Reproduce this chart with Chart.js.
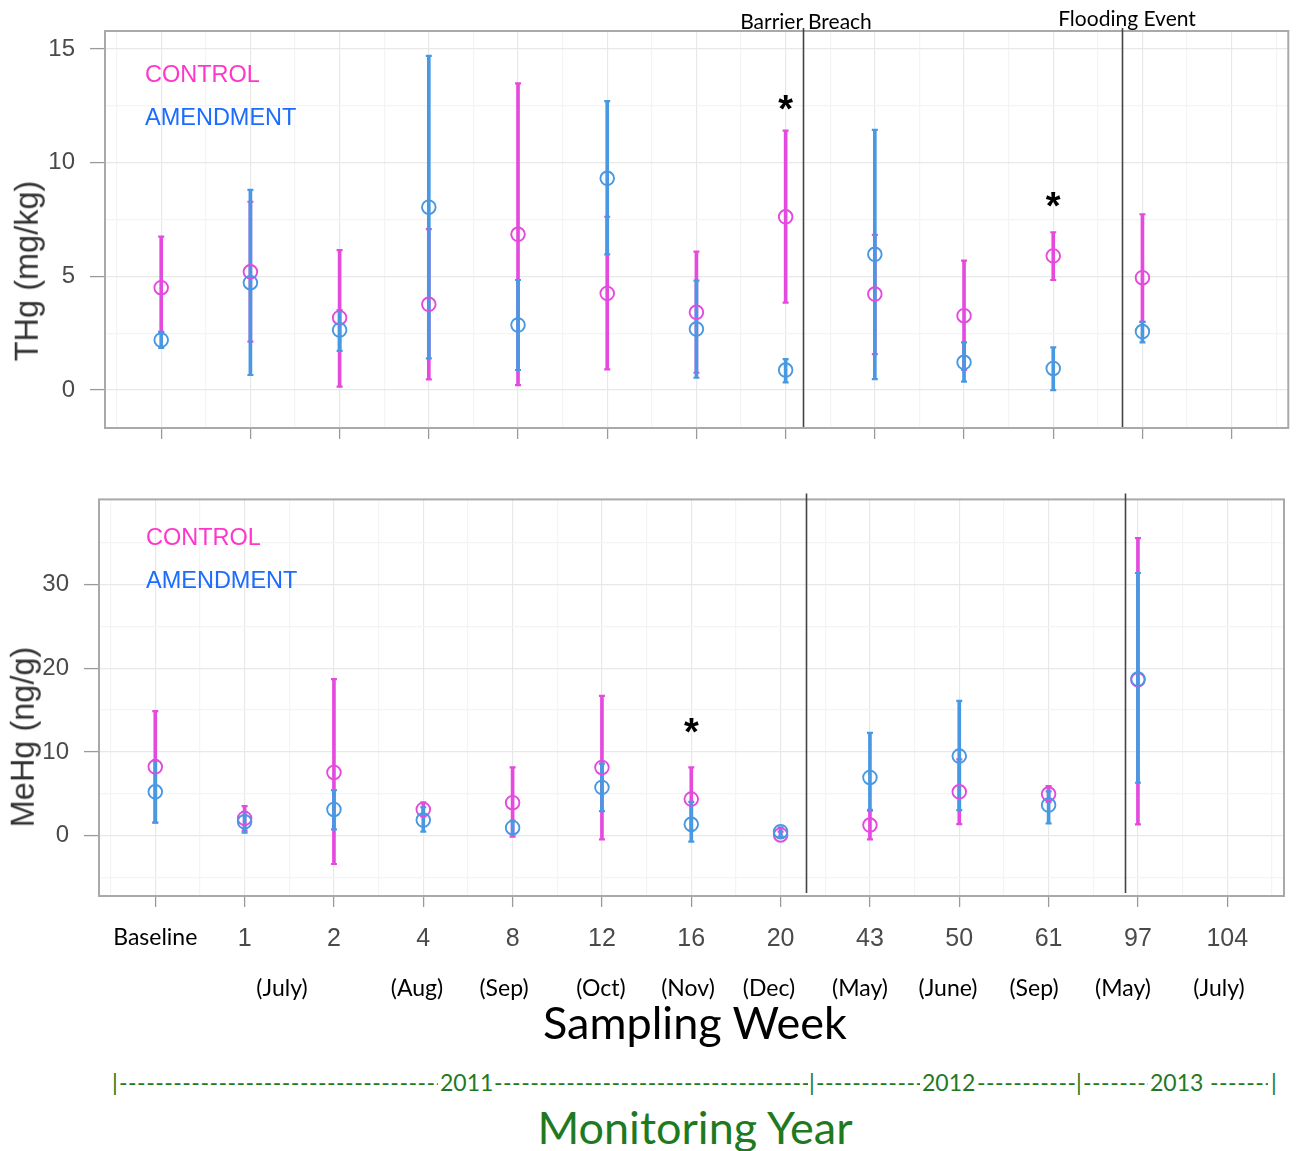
<!DOCTYPE html>
<html>
<head>
<meta charset="utf-8">
<script src="https://cdn.jsdelivr.net/npm/chart.js@4.4.1/dist/chart.umd.min.js"></script>
<style>
  html, body { margin: 0; padding: 0; background: #fff; }
  #page { position: relative; width: 1297px; height: 1151px; overflow: hidden; background: #fff; }
  canvas { position: absolute; left: 0; }
  .t { position: absolute; white-space: nowrap; line-height: 1; }
  .c { transform: translate(-50%, -50%); }
  .rot { transform: translate(-50%, -50%) rotate(-90deg); }
  .arial { font-family: 'Liberation Sans', Arial, sans-serif; }
  .hum { font-family: Lato, 'Open Sans', sans-serif; }
  .legend { font-size: 23.5px; }
  .ctrl { color: #ff36cc; }
  .amend { color: #1c6cff; }
  .green { color: #1f7a1f; }
  .dash { overflow: hidden; letter-spacing: 0.5px; }
</style>
</head>
<body>
<div id="page">
  <canvas id="thg" width="1297" height="470" style="top:0"></canvas>
  <canvas id="mehg" width="1297" height="512" style="top:470px"></canvas>

  <div class="t arial rot" style="left:27px;top:271px;font-size:32.5px;color:#333;">THg (mg/kg)</div>
  <div class="t arial rot" style="left:23px;top:737px;font-size:32.5px;color:#333;">MeHg (ng/g)</div>

  <div class="t arial legend ctrl" style="left:145px;top:63px;">CONTROL</div>
  <div class="t arial legend amend" style="left:145px;top:106px;">AMENDMENT</div>
  <div class="t arial legend ctrl" style="left:146px;top:526px;">CONTROL</div>
  <div class="t arial legend amend" style="left:146px;top:569px;">AMENDMENT</div>

  <div class="t hum c" style="left:806px;top:20px;font-size:21px;color:#000;">Barrier Breach</div>
  <div class="t hum c" style="left:1127px;top:17px;font-size:21px;color:#000;">Flooding Event</div>

  <div id="months"></div>
  <div class="t hum c" style="left:695px;top:1022px;font-size:45px;color:#000;">Sampling Week</div>
  <div id="years"></div>
  <div class="t hum c green" style="left:695px;top:1127px;font-size:45px;">Monitoring Year</div>
</div>

<script>
// ---- sampling weeks (x categories) ----
const weeks = ['Baseline', '1', '2', '4', '8', '12', '16', '20', '43', '50', '61', '97', '104'];
const monthLabels = ['(July)', '(Aug)', '(Sep)', '(Oct)', '(Nov)', '(Dec)', '(May)', '(June)', '(Sep)', '(May)', '(July)'];

// ---- THg (mg/kg): mean and error-bar ends per week ----
const thgControlMean = [4.50, 5.20, 3.18, 3.77, 6.85, 4.25, 3.42, 7.62, 4.22, 3.27, 5.90, 4.94];
const thgControlLow  = [2.56, 2.13, 0.15, 0.47, 0.22, 0.91, 0.76, 3.84, 1.58, 0.88, 4.84, 3.00];
const thgControlHigh = [6.75, 8.28, 6.15, 7.08, 13.49, 7.62, 6.09, 11.41, 6.82, 5.69, 6.94, 7.73];
const thgAmendMean   = [2.20, 4.72, 2.64, 8.04, 2.86, 9.31, 2.68, 0.88, 5.97, 1.22, 0.95, 2.57];
const thgAmendLow    = [1.85, 0.66, 1.72, 1.39, 0.88, 5.97, 0.54, 0.34, 0.48, 0.37, 0.00, 2.10];
const thgAmendHigh   = [2.56, 8.80, 3.52, 14.70, 4.84, 12.71, 4.81, 1.36, 11.44, 2.10, 1.88, 3.00];

// ---- MeHg (ng/g): mean and error-bar ends per week ----
const mehgControlMean = [8.22, 2.07, 7.55, 3.14, 3.94, 8.15, 4.37, 0.10, 1.27, 5.24, 4.97, 18.60];
const mehgControlLow  = [1.58, 0.60, -3.37, 2.30, -0.10, -0.43, 0.60, -0.20, -0.43, 1.39, 4.00, 1.36];
const mehgControlHigh = [14.86, 3.54, 18.68, 3.98, 8.15, 16.69, 8.15, 0.50, 3.00, 9.10, 5.92, 35.50];
const mehgAmendMean   = [5.24, 1.67, 3.14, 1.87, 0.96, 5.77, 1.36, 0.48, 6.96, 9.50, 3.66, 18.70];
const mehgAmendLow    = [1.55, 0.36, 0.76, 0.48, 0.20, 2.94, -0.71, -0.10, 3.10, 3.06, 1.48, 6.32];
const mehgAmendHigh   = [9.00, 2.86, 5.45, 3.40, 1.80, 8.60, 4.05, 1.00, 12.28, 16.10, 5.30, 31.35];

// weeks (by index) where the two treatments differ significantly
const thgSignificant = [7, 10];
const mehgSignificant = [6];

const CTRL = '#e54ade';
const AMEND = '#4898e2';

// ---- text rows below the lower panel ----
const monthCenters = [282, 417, 504, 601, 688, 769, 860, 948, 1034, 1123, 1219];
const monthsBox = document.getElementById('months');
monthLabels.forEach((m, i) => {
  const d = document.createElement('div');
  d.className = 't hum c';
  d.style.cssText = `left:${monthCenters[i]}px;top:987px;font-size:23px;color:#000;`;
  d.textContent = m;
  monthsBox.appendChild(d);
});

const DASHES = '-'.repeat(70);
const yearRow = [
  [112, null, '|'], [119, 319, DASHES], [440, null, '2011'], [494, 314, DASHES],
  [809, null, '|'], [816, 104, DASHES], [922, null, '2012'], [977, 98, DASHES],
  [1076, null, '|'], [1083, 65, DASHES], [1150, null, '2013'], [1210, 58, DASHES],
  [1271, null, '|']
];
const yearsBox = document.getElementById('years');
yearRow.forEach(([left, width, txt]) => {
  const d = document.createElement('div');
  d.className = 't hum green' + (width ? ' dash' : '');
  d.style.cssText = `left:${left}px;top:1071px;font-size:23px;` + (width ? `width:${width}px;` : '');
  d.textContent = txt;
  yearsBox.appendChild(d);
});

// ---- chart helpers ----
const rangeBars = (low, high) => low.map((v, i) => ({ x: i, y: [v, high[i]] }));
const capPoints = (low, high) => {
  const pts = [];
  low.forEach((v, i) => { pts.push({ x: i, y: v }); pts.push({ x: i, y: high[i] }); });
  return pts;
};
const meanPoints = mean => mean.map((v, i) => ({ x: i, y: v }));
const steps = (from, to, step) => {
  const out = [];
  for (let k = Math.round(from / step); k * step <= to + 1e-9; k++) out.push({ value: k * step });
  return out;
};

const panelExtras = {
  id: 'panelExtras',
  beforeDatasetsDraw(chart) {
    const a = chart.chartArea, ctx = chart.ctx;
    ctx.save();
    ctx.strokeStyle = '#a9a9a9';
    ctx.lineWidth = 2;
    ctx.strokeRect(a.left, a.top, a.right - a.left, a.bottom - a.top);
    ctx.restore();
  },
  afterDatasetsDraw(chart, args, o) {
    const a = chart.chartArea, ctx = chart.ctx;
    const xs = chart.scales.x, ys = chart.scales.y;
    ctx.save();
    ctx.strokeStyle = '#444';
    ctx.lineWidth = 1.6;
    o.eventLines.forEach(v => {
      const px = Math.round(xs.getPixelForValue(v)) + 0.5;
      ctx.beginPath();
      ctx.moveTo(px, a.top - o.lineAbove);
      ctx.lineTo(px, a.bottom - o.lineShort);
      ctx.stroke();
    });
    ctx.fillStyle = '#000';
    ctx.font = 'bold 38px "Liberation Sans", Arial, sans-serif';
    ctx.textAlign = 'center';
    ctx.textBaseline = 'alphabetic';
    o.stars.forEach(s => {
      ctx.fillText('*', xs.getPixelForValue(s.x), ys.getPixelForValue(s.y) + 0.57 * 38);
    });
    ctx.restore();
  }
};

function buildPanel(id, p) {
  const isMajorX = v => Number.isInteger(v);
  return new Chart(document.getElementById(id), {
    type: 'bar',
    data: {
      datasets: [
        { type: 'line', data: meanPoints(p.amendMean), showLine: false, pointStyle: 'circle',
          pointRadius: 6.8, pointBorderWidth: 1.9, pointBorderColor: AMEND, pointBackgroundColor: 'rgba(0,0,0,0)' },
        { type: 'line', data: meanPoints(p.ctrlMean), showLine: false, pointStyle: 'circle',
          pointRadius: 6.8, pointBorderWidth: 1.9, pointBorderColor: CTRL, pointBackgroundColor: 'rgba(0,0,0,0)' },
        { type: 'line', data: capPoints(p.amendLow, p.amendHigh), showLine: false, pointStyle: 'line',
          pointRadius: 3, pointBorderWidth: 2.2, pointBorderColor: AMEND },
        { type: 'bar', data: rangeBars(p.amendLow, p.amendHigh), backgroundColor: AMEND,
          barThickness: 3, grouped: false, borderSkipped: false },
        { type: 'line', data: capPoints(p.ctrlLow, p.ctrlHigh), showLine: false, pointStyle: 'line',
          pointRadius: 3, pointBorderWidth: 2.2, pointBorderColor: CTRL },
        { type: 'bar', data: rangeBars(p.ctrlLow, p.ctrlHigh), backgroundColor: CTRL,
          barThickness: 3, grouped: false, borderSkipped: false }
      ]
    },
    plugins: [panelExtras],
    options: {
      responsive: false,
      animation: false,
      devicePixelRatio: 1,
      layout: { padding: { left: 0, right: p.padRight, top: p.padTop, bottom: 0 } },
      plugins: {
        legend: { display: false },
        tooltip: { enabled: false },
        panelExtras: { eventLines: p.eventLines, lineAbove: p.lineAbove, lineShort: p.lineShort, stars: p.stars }
      },
      scales: {
        x: {
          type: 'linear', min: -0.63, max: 12.635, offset: false,
          afterBuildTicks: s => { s.ticks = steps(-0.5, 12.5, 0.5); },
          afterFit: s => { s.height = p.xHeight; },
          border: { display: false },
          grid: {
            offset: false,
            color: c => (c.tick && isMajorX(c.tick.value)) ? '#e8e8e8' : '#f4f4f4',
            lineWidth: 1.2,
            tickLength: 11,
            tickWidth: 1.3,
            tickColor: c => (c.tick && isMajorX(c.tick.value)) ? '#9a9a9a' : 'rgba(0,0,0,0)'
          },
          ticks: {
            autoSkip: false, maxRotation: 0, minRotation: 0, padding: p.xPad,
            callback: v => (p.showWeeks && isMajorX(v) && weeks[v] !== undefined) ? weeks[v] : '',
            font: c => (c.tick && c.tick.value === 0)
              ? { family: 'Lato', size: 23 }
              : { family: 'Liberation Sans', size: 25 },
            color: c => (c.tick && c.tick.value === 0) ? '#000' : '#4a4a4a'
          }
        },
        y: {
          type: 'linear', min: p.yMin, max: p.yMax,
          afterBuildTicks: s => { s.ticks = steps(p.yFirst, p.yLast, p.yMinor); },
          afterFit: s => { s.width = p.yWidth; },
          border: { display: false },
          grid: {
            color: c => (c.tick && c.tick.value % p.yMajor === 0) ? '#e8e8e8' : '#f4f4f4',
            lineWidth: 1.2,
            tickLength: 15,
            tickWidth: 1.3,
            tickColor: c => (c.tick && c.tick.value % p.yMajor === 0) ? '#9a9a9a' : 'rgba(0,0,0,0)'
          },
          ticks: {
            autoSkip: false, padding: 15,
            callback: v => (v % p.yMajor === 0 && v <= p.yLabelMax) ? String(v) : '',
            font: { family: 'Liberation Sans', size: 24 },
            color: '#4a4a4a'
          }
        }
      }
    }
  });
}

buildPanel('thg', {
  ctrlMean: thgControlMean, ctrlLow: thgControlLow, ctrlHigh: thgControlHigh,
  amendMean: thgAmendMean, amendLow: thgAmendLow, amendHigh: thgAmendHigh,
  padRight: 7, padTop: 31, xHeight: 42, yWidth: 105, xPad: 10, showWeeks: false,
  yMin: -1.67, yMax: 15.79, yFirst: 0, yLast: 15, yMinor: 2.5, yMajor: 5, yLabelMax: 15,
  eventLines: [7.198, 10.77], lineAbove: 3, lineShort: 1,
  stars: thgSignificant.map((w, k) => ({ x: w, y: [12.76, 8.49][k] }))
});

buildPanel('mehg', {
  ctrlMean: mehgControlMean, ctrlLow: mehgControlLow, ctrlHigh: mehgControlHigh,
  amendMean: mehgAmendMean, amendLow: mehgAmendLow, amendHigh: mehgAmendHigh,
  padRight: 13, padTop: 29, xHeight: 86, yWidth: 99, xPad: 17, showWeeks: true,
  yMin: -7.19, yMax: 40.13, yFirst: -5, yLast: 35, yMinor: 5, yMajor: 10, yLabelMax: 30,
  eventLines: [7.288, 10.85], lineAbove: 6, lineShort: 3,
  stars: mehgSignificant.map(w => ({ x: w, y: 13.43 }))
});
</script>
</body>
</html>
